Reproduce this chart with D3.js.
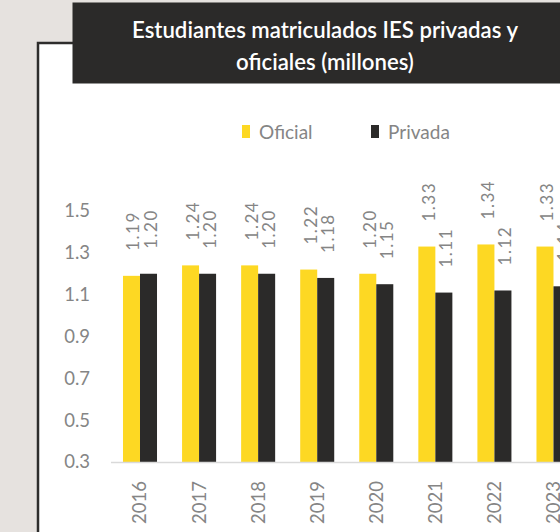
<!DOCTYPE html>
<html><head><meta charset="utf-8">
<script src="https://cdn.jsdelivr.net/npm/d3@7"></script>
<style>
html,body{margin:0;padding:0;background:#e6e2df;}
svg{display:block;}
</style></head>
<body>
<svg id="c" width="560" height="532"></svg>
<script>
const years = ["2016","2017","2018","2019","2020","2021","2022","2023"];
const oficial = [1.19, 1.24, 1.24, 1.22, 1.20, 1.33, 1.34, 1.33];
const privada = [1.20, 1.20, 1.20, 1.18, 1.15, 1.11, 1.12, 1.14];
const seriesNames = ["Oficial", "Privada"];
const yTicks = [0.3, 0.5, 0.7, 0.9, 1.1, 1.3, 1.5];
const titleLines = ["Estudiantes matriculados IES privadas y", "oficiales (millones)"];

const colors = {Oficial: "#fdd823", Privada: "#2b2a29"};
const svg = d3.select("#c");
const font = "Lato, 'Open Sans', sans-serif";

// background panel
svg.append("rect").attr("x",0).attr("y",0).attr("width",560).attr("height",532).attr("fill","#e6e2df");
svg.append("rect").attr("x",38).attr("y",43).attr("width",530).attr("height",500)
  .attr("fill","#ffffff").attr("stroke","#2e2d2c").attr("stroke-width",2.5);

// title box
svg.append("rect").attr("x",72.5).attr("y",2.5).attr("width",500).attr("height",81).attr("fill","#2b2a29");
svg.append("g").selectAll("text").data(titleLines).join("text")
  .attr("x",325).attr("y",(d,i)=>38+i*32)
  .attr("text-anchor","middle").attr("fill","#ffffff")
  .attr("font-family",font).attr("font-size",22.2).attr("font-weight",600)
  .text(d=>d);

// scales
const step = 59.07;
const x = d3.scaleBand().domain(years).range([140 - step/2, 140 - step/2 + step*years.length])
  .paddingInner(0.424).paddingOuter(0.212);
const x1 = d3.scaleBand().domain(seriesNames).range([0, x.bandwidth()]);
const y = d3.scaleLinear().domain([0.3, 1.5]).range([462, 211]);

// y axis
const yAx = svg.append("g").attr("transform","translate(110,0)")
  .call(d3.axisLeft(y).tickValues(yTicks).tickSize(0).tickPadding(20).tickFormat(d3.format(".1f")));
yAx.select(".domain").remove();
yAx.selectAll("text").attr("font-family",font).attr("font-size",18.5).attr("fill","#858585");

// bars
const data = years.map((yr,i)=>({year:yr, vals:[{k:"Oficial",v:oficial[i]},{k:"Privada",v:privada[i]}]}));
const groups = svg.append("g").selectAll("g").data(data).join("g")
  .attr("transform",d=>`translate(${x(d.year)},0)`);
groups.selectAll("rect").data(d=>d.vals).join("rect")
  .attr("x",d=>x1(d.k)).attr("width",x1.bandwidth())
  .attr("y",d=>y(d.v)).attr("height",d=>y(0.3)-y(d.v))
  .attr("fill",d=>colors[d.k]);
groups.selectAll("text").data(d=>d.vals).join("text")
  .attr("transform",d=>`translate(${x1(d.k)+x1.bandwidth()/2+1.5},${y(d.v)-25}) rotate(-90)`)
  .attr("text-anchor","start").attr("dominant-baseline","central")
  .attr("font-family",font).attr("font-size",17).attr("letter-spacing",1.5).attr("fill","#858585")
  .text(d=>d3.format(".2f")(d.v));

// x axis
const xAx = svg.append("g").attr("transform","translate(0,462)")
  .call(d3.axisBottom(x).tickSize(0).tickPadding(0));
xAx.select(".domain").attr("stroke","#d9d9d9").attr("stroke-width",1.5);
xAx.selectAll("text")
  .attr("transform","translate(0,19) rotate(-90)").attr("y",0).attr("dy","0.35em")
  .attr("text-anchor","end")
  .attr("font-family",font).attr("font-size",18.5).attr("fill","#858585");

// legend
const leg = svg.append("g").selectAll("g").data(seriesNames).join("g")
  .attr("transform",(d,i)=>`translate(${[242,371][i]},125)`);
leg.append("rect").attr("width",8).attr("height",13).attr("fill",d=>colors[d]);
leg.append("text").attr("x",17).attr("y",14).attr("font-family",font).attr("font-size",19)
  .attr("fill","#858585").text(d=>d);
</script>
</body></html>
